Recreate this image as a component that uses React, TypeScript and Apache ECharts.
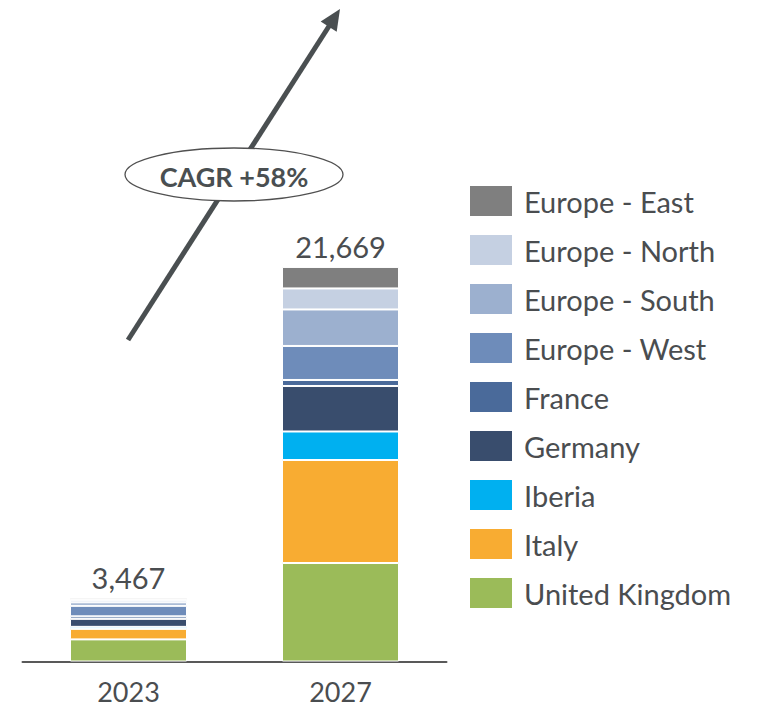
import React, { useEffect, useRef } from "react";
import * as echarts from "echarts";

const years = ["2023", "2027"];
const totals = [3467, 21669];
const seriesNames = [
  "United Kingdom",
  "Italy",
  "Iberia",
  "Germany",
  "France",
  "Europe - West",
  "Europe - South",
  "Europe - North",
  "Europe - East",
];
const ukValues = [1215, 5408];
const italyValues = [577, 5658];
const iberiaValues = [110, 1566];
const germanyValues = [440, 2499];
const franceValues = [137, 330];
const westValues = [577, 1868];
const southValues = [192, 2005];
const northValues = [137, 1154];
const eastValues = [82, 1181];
const seriesValues = [
  ukValues,
  italyValues,
  iberiaValues,
  germanyValues,
  franceValues,
  westValues,
  southValues,
  northValues,
  eastValues,
];
const seriesColors = [
  "#9BBB59",
  "#F8AC32",
  "#00B0F0",
  "#394D6D",
  "#4A6A9A",
  "#6E8CBA",
  "#9CB0CF",
  "#C5D0E2",
  "#7F7F7F",
];
const cagrText = "CAGR +58%";

const FONT = "Lato, 'Open Sans', sans-serif";
const TEXT = "#4A4D50";

export default function App() {
  const ref = useRef<HTMLDivElement>(null);
  useEffect(() => {
    document.body.style.margin = "0";
    if (!ref.current) return;
    const chart = echarts.init(ref.current, null, { renderer: "svg" });

    const tip = [340, 9];
    const start = [128, 340];
    const dx = tip[0] - start[0];
    const dy = tip[1] - start[1];
    const len = Math.sqrt(dx * dx + dy * dy);
    const ux = dx / len;
    const uy = dy / len;
    const headLen = 21;
    const headHalf = 9.5;
    const base = [tip[0] - ux * headLen, tip[1] - uy * headLen];
    const px = -uy;
    const py = ux;

    const series: any[] = seriesNames.map((name, i) => ({
      name,
      type: "bar",
      stack: "total",
      barWidth: 117,
      data: seriesValues[i],
      itemStyle: { color: seriesColors[i], borderColor: "#ffffff", borderWidth: 1 },
      label:
        i === seriesNames.length - 1
          ? {
              show: true,
              position: "top",
              distance: 6,
              fontFamily: FONT,
              fontSize: 29,
              color: TEXT,
              formatter: (p: any) => totals[p.dataIndex].toLocaleString("en-US"),
            }
          : { show: false },
    }));

    chart.setOption({
      animation: false,
      grid: { left: 22.5, width: 424, top: 6, bottom: 45.5, containLabel: false },
      xAxis: {
        type: "category",
        data: years,
        axisLine: { show: true, lineStyle: { color: "#595959", width: 2 } },
        axisTick: { show: false },
        axisLabel: {
          fontFamily: FONT,
          fontSize: 27,
          color: TEXT,
          margin: 16,
        },
      },
      yAxis: {
        type: "value",
        min: 0,
        max: 36000,
        show: false,
        splitLine: { show: false },
      },
      legend: {
        orient: "vertical",
        left: 468,
        top: 184,
        padding: 0,
        itemWidth: 44,
        itemHeight: 32,
        itemGap: 15,
        icon: "rect",
        data: [...seriesNames].reverse(),
        selectedMode: false,
        textStyle: {
          fontFamily: FONT,
          fontSize: 29,
          color: TEXT,
          lineHeight: 32,
          height: 32,
          padding: [0, 0, 0, 6],
        },
      },
      graphic: [
        {
          type: "line",
          z: 10,
          shape: { x1: start[0], y1: start[1], x2: base[0] + ux * 2, y2: base[1] + uy * 2 },
          style: { stroke: "#4A4F51", lineWidth: 5 },
        },
        {
          type: "polygon",
          z: 10,
          shape: {
            points: [
              tip,
              [base[0] + px * headHalf, base[1] + py * headHalf],
              [base[0] - px * headHalf, base[1] - py * headHalf],
            ],
          },
          style: { fill: "#4A4F51" },
        },
        {
          type: "ellipse",
          z: 11,
          shape: { cx: 234, cy: 174.5, rx: 109, ry: 26.5 },
          style: { fill: "#ffffff", stroke: "#505050", lineWidth: 1.3 },
        },
        {
          type: "text",
          z: 12,
          x: 234,
          y: 176,
          style: {
            text: cagrText,
            fontFamily: FONT,
            fontWeight: "bold",
            fontSize: 27,
            fill: "#4A4F51",
            align: "center",
            verticalAlign: "middle",
          },
        },
      ],
      series,
    });
    return () => chart.dispose();
  }, []);
  return <div ref={ref} style={{ width: 766, height: 707 }} />;
}
